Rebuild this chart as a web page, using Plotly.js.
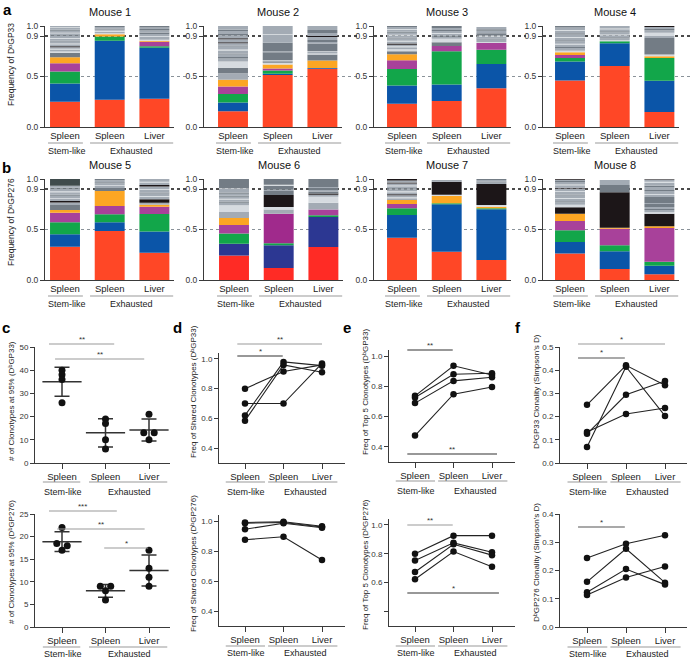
<!DOCTYPE html>
<html>
<head>
<meta charset="utf-8">
<script src="https://cdn.plot.ly/plotly-3.0.1.min.js"></script>
<style>
  html, body { margin: 0; padding: 0; background: #fff; }
  #fig { width: 691px; height: 660px; }
</style>
</head>
<body>
<div id="fig"></div>
<script>
// clonotype composition per bar (segment frequencies, bottom -> top)
const m1Stem = [.25,.18,.12,.08,.06,.045,.012,.02,.008,.015,.01,.02,.006,.02,.008,.02,.006,.02,.008,.02,.006,.02,.008,.02,.006,.012];
const m1Exh  = [.27,.585,.04,.023,.01,.015,.01,.012,.01,.015,.01];
const m1Liv  = [.28,.505,.015,.045,.01,.01,.025,.01,.02,.015,.02,.015,.015,.015];
const m2Stem = [.155,.088,.083,.074,.067,.066,.053,.062,.03,.015,.025,.01,.03,.01,.03,.01,.02,.012,.03,.008,.03,.012,.03,.012,.038];
const m2Exh  = [.516,.01,.034,.02,.04,.015,.015,.01,.08,.01,.085,.08,.005,.08];
const m2Liv  = [.576,.009,.073,.06,.01,.015,.008,.075,.015,.02,.03,.01,.03,.03,.039];
const m3Stem = [.231,.179,.164,.086,.06,.03,.02,.02,.01,.015,.012,.02,.008,.02,.01,.02,.008,.02,.01,.02,.008,.02,.009];
const m3Exh  = [.257,.165,.327,.053,.038,.033,.02,.01,.02,.008,.02,.01,.02,.019];
const m3Liv  = [.383,.241,.142,.066,.01,.025,.01,.02,.01,.02,.025,.015,.023];
const m4Stem = [.46,.188,.036,.03,.026,.016,.025,.01,.025,.008,.025,.01,.025,.008,.025,.01,.025,.008,.025,.015];
const m4Exh  = [.605,.224,.02,.01,.02,.01,.02,.008,.02,.01,.02,.008,.025];
const m4Liv  = [.148,.309,.227,.016,.017,.165,.02,.03,.025,.013,.02,.01];
const m5Stem = [.33,.122,.119,.096,.026,.05,.025,.014,.02,.008,.025,.01,.025,.008,.025,.01,.021,.066];
const m5Exh  = [.485,.086,.079,.083,.147,.03,.02,.008,.02,.01,.02,.012];
const m5Liv  = [.27,.209,.174,.073,.02,.02,.033,.025,.008,.025,.01,.025,.008,.025,.015,.025,.008,.027];
const m6Stem = [.242,.118,.101,.084,.068,.06,.068,.025,.01,.02,.008,.02,.01,.02,.012,.035,.008,.091];
const m6Exh  = [.118,.225,.021,.293,.04,.027,.118,.04,.012,.04,.008,.058];
const m6Liv  = [.327,.296,.017,.057,.067,.061,.02,.012,.02,.015,.02,.01,.078];
const m7Stem = [.419,.225,.066,.042,.04,.018,.01,.02,.01,.02,.008,.02,.01,.02,.008,.02,.01,.02,.014];
const m7Exh  = [.28,.469,.01,.073,.013,.129,.01,.006];
const m7Liv  = [.198,.502,.01,.016,.016,.208,.015,.01,.015,.01];
const m8Stem = [.262,.115,.115,.092,.072,.065,.023,.025,.01,.025,.008,.025,.01,.025,.008,.025,.008,.025,.008,.025,.01,.012,.007];
const m8Exh  = [.108,.177,.059,.164,.01,.351,.072,.049];
const m8Liv  = [.056,.085,.039,.335,.016,.125,.016,.02,.01,.02,.03,.01,.06,.02,.01,.03,.01,.03,.012,.03,.01,.02,.006];

// colour key of each segment (style only)
const pal = {R:'#FF4726',B:'#0B55A8',G:'#12A64A',M:'#A8419A',O:'#FCA623',D:'#737C85',L:'#A3ABB4',
             W:'#D6DBE0',K:'#1C1618',S:'#3F4B4C',r:'#FF2B25',b:'#2C3792',p:'#A02A8C'};
const m1Col = ['RBGMODWLWLKLWLDLWLDLWLDLWL','RBGOWLWLDLD','RBGMOWLWLDLDLD'];
const m2Col = ['RBGMOLDWLDLDLWLDLKLKLDLDL','RBGMOWDWDLDLWL','RBODWLWDLDLKLDL'];
const m3Col = ['RBGMODWLWLKLWLDLWLDLWLD','RBGMDWLDLWLDLD','RBGMWLDLWDLDL'];
const m4Col = ['RBGMOWLDLWLDLWLDLWLD','RBGWLDLWLDLWL','RBGOWDLWLDLK'];
const m5Col = ['RBGMODLKLWLDLWLDLS','RBGMODLWLDLD','RBGMOLKLWLDLWLKLWL'];
const m6Col = ['rbGMOLWLDLWLDLDLWD','rbGpLWKDLDWD','rbGMLWLKDLDLD'];
const m7Col = ['RBGMOLWLKLWLDLWLKLK','RBGOWKLD','RBGOWKLDLD'];
const m8Col = ['RBGMOKWLDLWLDLWLKLWLDLK','RBGMOKDL','RBGMOKWLDLDLDLWLDLDLWLK'];

const categories = ['Spleen','Spleen','Liver'];
const barTicks = [0, 0.5, 0.9, 1.0];
const barTickText = ['0.0','0.5','0.9','1.0'];

// c: # of clonotypes at 95%
const cTopStem = [40, 38, 36, 26];
const cTopExh  = [19, 17, 10, 6];
const cTopLiv  = [21, 13, 13, 10];
const cBotStem = [22, 18.5, 18, 17];
const cBotExh  = [9, 9, 8, 6];
const cBotLiv  = [17, 13, 11, 9];
// d: freq of shared clonotypes (one entry per mouse)
const dTopStem = [0.80, 0.70, 0.62, 0.585];
const dTopExh  = [0.915, 0.70, 0.98, 0.96];
const dTopLiv  = [0.96, 0.97, 0.955, 0.91];
const dBotStem = [0.99, 0.985, 0.945, 0.875];
const dBotExh  = [0.995, 0.99, 0.985, 0.895];
const dBotLiv  = [0.965, 0.96, 0.955, 0.74];
// e: freq of top 5 clonotypes
const eTopStem = [0.737, 0.726, 0.689, 0.475];
const eTopExh  = [0.936, 0.88, 0.836, 0.748];
const eTopLiv  = [0.875, 0.886, 0.86, 0.796];
const eBotStem = [0.80, 0.753, 0.673, 0.623];
const eBotExh  = [0.925, 0.875, 0.865, 0.815];
const eBotLiv  = [0.925, 0.81, 0.79, 0.71];
// f: clonality (Simpson's D)
const fTopStem = [0.251, 0.069, 0.126, 0.134];
const fTopExh  = [0.421, 0.415, 0.294, 0.211];
const fTopLiv  = [0.335, 0.203, 0.353, 0.237];
const fBotStem = [0.244, 0.16, 0.123, 0.113];
const fBotExh  = [0.295, 0.277, 0.205, 0.175];
const fBotLiv  = [0.325, 0.157, 0.15, 0.214];

const W = 691, H = 660;
const fx = px => px / W;
const fy = py => 1 - py / H;
const FONT = 'Arial, "Liberation Sans", "DejaVu Sans", sans-serif';
const AXC = '#3a3a3a';
const Db = 'D\u1D47';   // D with superscript b

const traces = [];
const shapes = [];
const annotations = [];
const layout = {
  width: W, height: H, margin: {l:0, r:0, t:0, b:0},
  paper_bgcolor: '#fff', plot_bgcolor: 'rgba(0,0,0,0)',
  font: {family: FONT, size: 9, color: '#222'},
  barmode: 'overlay', showlegend: false
};

function aid(n){ return n === 1 ? '' : String(n); }
function txt(x, y, text, o){
  annotations.push(Object.assign({xref:'paper', yref:'paper', x:fx(x), y:fy(y), text,
    showarrow:false, xanchor:'center', yanchor:'middle', font:{size:9, color:'#222'}}, o || {}));
}

// ---- a / b : stacked bars ----
const unitBar = 44.7;
const barPanels = [
  {title:'Mouse 1', bars:[m1Stem,m1Exh,m1Liv], col:m1Col, ax:45,  c0:65,  top:26,  bot:127, lineEnd:187},
  {title:'Mouse 2', bars:[m2Stem,m2Exh,m2Liv], col:m2Col, ax:204, c0:233, top:26,  bot:127, lineEnd:357},
  {title:'Mouse 3', bars:[m3Stem,m3Exh,m3Liv], col:m3Col, ax:374, c0:402, top:26,  bot:127, lineEnd:526},
  {title:'Mouse 4', bars:[m4Stem,m4Exh,m4Liv], col:m4Col, ax:543, c0:570, top:26,  bot:127, lineEnd:691},
  {title:'Mouse 5', bars:[m5Stem,m5Exh,m5Liv], col:m5Col, ax:45,  c0:65,  top:179, bot:280, lineEnd:187},
  {title:'Mouse 6', bars:[m6Stem,m6Exh,m6Liv], col:m6Col, ax:204, c0:234, top:179, bot:280, lineEnd:357},
  {title:'Mouse 7', bars:[m7Stem,m7Exh,m7Liv], col:m7Col, ax:374, c0:402, top:179, bot:280, lineEnd:526},
  {title:'Mouse 8', bars:[m8Stem,m8Exh,m8Liv], col:m8Col, ax:543, c0:570, top:179, bot:280, lineEnd:691}
];

barPanels.forEach((p, i) => {
  const n = i + 1, id = aid(n);
  const x = [], y = [], base = [], color = [];
  p.bars.forEach((seg, j) => {
    let cum = 0;
    seg.forEach((v, k) => {
      x.push(j); y.push(v); base.push(cum); color.push(pal[p.col[j][k]]); cum += v;
    });
  });
  traces.push({type:'bar', x, y, base, width:0.67, marker:{color, line:{width:0}},
    xaxis:'x'+id, yaxis:'y'+id, hoverinfo:'skip'});

  const r0 = -(p.c0 - p.ax) / unitBar, r1 = 2.43;
  const x1 = p.ax + (r1 - r0) * unitBar;
  layout['xaxis'+id] = {domain:[fx(p.ax), fx(x1)], range:[r0, r1], anchor:'y'+id,
    showline:true, linecolor:AXC, linewidth:1, ticks:'', tickvals:[0,1,2], ticktext:categories,
    showgrid:false, zeroline:false, tickfont:{size:9.5, color:'#222'}, fixedrange:true};
  layout['yaxis'+id] = {domain:[fy(p.bot), fy(p.top)], range:[0, 1], anchor:'x'+id,
    showline:true, linecolor:AXC, linewidth:1, ticks:'outside', ticklen:4, tickcolor:AXC,
    tickvals:barTicks, ticktext:barTickText, showgrid:false, zeroline:false,
    tickfont:{size:8.5, color:'#333'}, fixedrange:true};

  // 0.5 and 0.9 reference lines
  shapes.push({type:'line', xref:'paper', yref:'y'+id, x0:fx(p.ax), x1:fx(p.lineEnd), y0:0.5, y1:0.5,
    line:{color:'#8a9299', width:1, dash:'dot'}, layer:'below'});
  shapes.push({type:'line', xref:'paper', yref:'y'+id, x0:fx(p.ax), x1:fx(p.lineEnd), y0:0.9, y1:0.9,
    line:{color:'#111', width:1.5, dash:'dot'}, layer:'below'});

  const cx = v => p.c0 + v * unitBar;
  txt(cx(1), p.top - 14, p.title, {font:{size:11, color:'#111'}});
  const ul = p.bot + 16, gt = p.bot + 24;
  shapes.push({type:'line', xref:'paper', yref:'paper', x0:fx(cx(-0.38)), x1:fx(cx(0.4)), y0:fy(ul), y1:fy(ul), line:{color:'#9a9a9a', width:1.2}});
  shapes.push({type:'line', xref:'paper', yref:'paper', x0:fx(cx(0.56)), x1:fx(cx(2.42)), y0:fy(ul), y1:fy(ul), line:{color:'#9a9a9a', width:1.2}});
  txt(cx(0.05), gt, 'Stem-like');
  txt(cx(1.49), gt, 'Exhausted');
});

txt(11, 65, 'Frequency of ' + Db + 'GP33', {textangle:-90, font:{size:8.5, color:'#222'}});
txt(11, 222, 'Frequency of ' + Db + 'GP276', {textangle:-90, font:{size:8.5, color:'#222'}});

// ---- c - f : scatter panels ----
const scPanels = [
  {key:'c', data:[cTopStem,cTopExh,cTopLiv], ax:35,  c0:62,  unit:43.5, x1:170, top:347, bot:463, yr:[0,50],
   tv:[0,10,20,30,40,50], tt:['0','10','20','30','40','50'], mean:true, jit:[[0,0,0,0],[0,0,0,0],[0,-0.12,0.12,0]],
   title:'# of Clonotypes at 95% (' + Db + 'GP33)', tx:11, ty:401},
  {key:'c', data:[cBotStem,cBotExh,cBotLiv], ax:35,  c0:62,  unit:43.5, x1:170, top:514, bot:627, yr:[0,25],
   tv:[0,5,10,15,20,25], tt:['0','5','10','15','20','25'], mean:true, jit:[[0,-0.12,0.12,0],[-0.12,0.12,0,0],[0,0,0,0]],
   title:'# of Clonotypes at 95% (' + Db + 'GP276)', tx:11, ty:562},
  {key:'d', data:[dTopStem,dTopExh,dTopLiv], ax:219, c0:245, unit:38.5, x1:345, top:353, bot:463, yr:[0.3,1.04],
   tv:[0.4,0.6,0.8,1.0], tt:['0.4','0.6','0.8','1.0'], title:'Freq of Shared Clonotypes (' + Db + 'GP33)', tx:193, ty:392},
  {key:'d', data:[dBotStem,dBotExh,dBotLiv], ax:219, c0:245, unit:38.5, x1:345, top:515, bot:626, yr:[0.3,1.04],
   tv:[0.4,0.6,0.8,1.0], tt:['0.4','0.6','0.8','1.0'], title:'Freq of Shared Clonotypes (' + Db + 'GP276)', tx:193, ty:564},
  {key:'e', data:[eTopStem,eTopExh,eTopLiv], ax:389, c0:415, unit:38.5, x1:515, top:350, bot:462, yr:[0.3,1.04],
   tv:[0.4,0.6,0.8,1.0], tt:['0.4','0.6','0.8','1.0'], title:'Freq of Top 5 Clonotypes (' + Db + 'GP33)', tx:365, ty:392},
  {key:'e', data:[eBotStem,eBotExh,eBotLiv], ax:389, c0:415, unit:38.5, x1:515, top:519, bot:626, yr:[0.3,1.04],
   tv:[0.4,0.6,0.8,1.0], tt:['','0.6','0.8','1.0'], title:'Freq of Top 5 Clonotypes (' + Db + 'GP276)', tx:365, ty:565},
  {key:'f', data:[fTopStem,fTopExh,fTopLiv], ax:560, c0:587, unit:39,   x1:687, top:347, bot:463, yr:[0,0.5],
   tv:[0,0.1,0.2,0.3,0.4,0.5], tt:['0.0','0.1','0.2','0.3','0.4','0.5'], title:Db + 'GP33 Clonality (Simpson\u2019s D)', tx:536, ty:392},
  {key:'f', data:[fBotStem,fBotExh,fBotLiv], ax:560, c0:587, unit:39,   x1:687, top:514, bot:627, yr:[0,0.4],
   tv:[0,0.1,0.2,0.3,0.4], tt:['0.0','0.1','0.2','0.3','0.4'], title:Db + 'GP276 Clonality (Simpson\u2019s D)', tx:536, ty:563}
];

// significance brackets: [panel index, x0, x1 (category units), y px, label, colour]
const brackets = [
  [0, -0.3, 1.2, 344, '**', '#9a9a9a'], [0, -0.16, 1.89, 359, '**', '#9a9a9a'],
  [1, -0.3, 1.26, 511, '***', '#9a9a9a'], [1, -0.11, 1.9, 529, '**', '#9a9a9a'], [1, 0.97, 1.98, 548, '*', '#9a9a9a'],
  [2, -0.2, 0.98, 356, '*', '#333'], [2, -0.2, 2.0, 344, '**', '#9a9a9a'],
  [4, -0.2, 0.98, 350, '**', '#333'], [4, -0.2, 2.13, 454, '**', '#333'],
  [5, -0.2, 0.98, 525, '**', '#9a9a9a'], [5, -0.2, 2.18, 593, '*', '#333'],
  [6, -0.23, 0.97, 358, '*', '#555'], [6, -0.23, 2.0, 344, '*', '#9a9a9a'],
  [7, -0.23, 0.97, 527, '*', '#555']
];

scPanels.forEach((p, i) => {
  const n = 9 + i, id = aid(n);
  const r0 = -(p.c0 - p.ax) / p.unit, r1 = r0 + (p.x1 - p.ax) / p.unit;
  layout['xaxis'+id] = {domain:[fx(p.ax), fx(p.x1)], range:[r0, r1], anchor:'y'+id,
    showline:true, linecolor:AXC, linewidth:1, ticks:'outside', ticklen:5, tickcolor:AXC,
    tickvals:[0,1,2], ticktext:categories, showgrid:false, zeroline:false,
    tickfont:{size:9.5, color:'#222'}, fixedrange:true};
  layout['yaxis'+id] = {domain:[fy(p.bot), fy(p.top)], range:p.yr, anchor:'x'+id,
    showline:true, linecolor:AXC, linewidth:1, ticks:'outside', ticklen:4, tickcolor:AXC,
    tickvals:p.tv, ticktext:p.tt, showgrid:false, zeroline:false,
    tickfont:{size:8, color:'#333'}, fixedrange:true};

  if (p.mean) {
    p.data.forEach((vals, j) => {
      const m = vals.reduce((a, b) => a + b, 0) / vals.length;
      const sd = Math.sqrt(vals.reduce((a, b) => a + (b - m) * (b - m), 0) / (vals.length - 1));
      traces.push({type:'scatter', mode:'markers', x:[j], y:[m], xaxis:'x'+id, yaxis:'y'+id,
        marker:{symbol:'line-ew-open', size:28, color:'#333', line:{color:'#333', width:1.5}},
        error_y:{type:'data', array:[sd], visible:true, width:7.5, thickness:1.5, color:'#333'},
        hoverinfo:'skip', cliponaxis:false});
      traces.push({type:'scatter', mode:'markers', x:vals.map((v, k) => j + p.jit[j][k]), y:vals,
        xaxis:'x'+id, yaxis:'y'+id, marker:{color:'#111', size:7}, hoverinfo:'skip', cliponaxis:false});
    });
  } else {
    const [s, e, l] = p.data;
    s.forEach((v, k) => {
      traces.push({type:'scatter', mode:'lines+markers', x:[0,1,2], y:[s[k], e[k], l[k]],
        xaxis:'x'+id, yaxis:'y'+id, line:{color:'#222', width:1.1},
        marker:{color:'#111', size:6.5}, hoverinfo:'skip', cliponaxis:false});
    });
  }

  const cx = v => p.c0 + v * p.unit;
  const ul = p.bot + (p.top < 400 ? 19 : 20), gt = p.bot + (p.top < 400 ? 29 : 27);
  const sl = p.key === 'c' ? [-0.44, 0.42, 0.62, 2.42] : [-0.5, 0.52, 0.6, 2.4];
  shapes.push({type:'line', xref:'paper', yref:'paper', x0:fx(cx(sl[0])), x1:fx(cx(sl[1])), y0:fy(ul), y1:fy(ul), line:{color:'#9a9a9a', width:1.2}});
  shapes.push({type:'line', xref:'paper', yref:'paper', x0:fx(cx(sl[2])), x1:fx(cx(sl[3])), y0:fy(ul), y1:fy(ul), line:{color:'#9a9a9a', width:1.2}});
  txt(cx(0.02), gt, 'Stem-like');
  txt(cx(1.56), gt, 'Exhausted');
  txt(p.tx, p.ty, p.title, {textangle:-90, font:{size:8, color:'#222'}});
});

brackets.forEach(b => {
  const p = scPanels[b[0]];
  const cx = v => p.c0 + v * p.unit;
  shapes.push({type:'line', xref:'paper', yref:'paper', x0:fx(cx(b[1])), x1:fx(cx(b[2])), y0:fy(b[3]), y1:fy(b[3]),
    line:{color:b[5], width:1.2}});
  txt(cx((b[1] + b[2]) / 2), b[3] - 5, b[4], {font:{size:8, color:'#333'}});
});

// panel letters
[['a',7,9.5],['b',6,167],['c',6,327],['d',177,327],['e',347,327],['f',518,327]].forEach(l =>
  txt(l[1], l[2], l[0], {font:{size:15, color:'#000', weight:'bold'}}));

layout.shapes = shapes;
layout.annotations = annotations;
Plotly.newPlot('fig', traces, layout, {displayModeBar:false, staticPlot:true});
</script>
</body>
</html>
